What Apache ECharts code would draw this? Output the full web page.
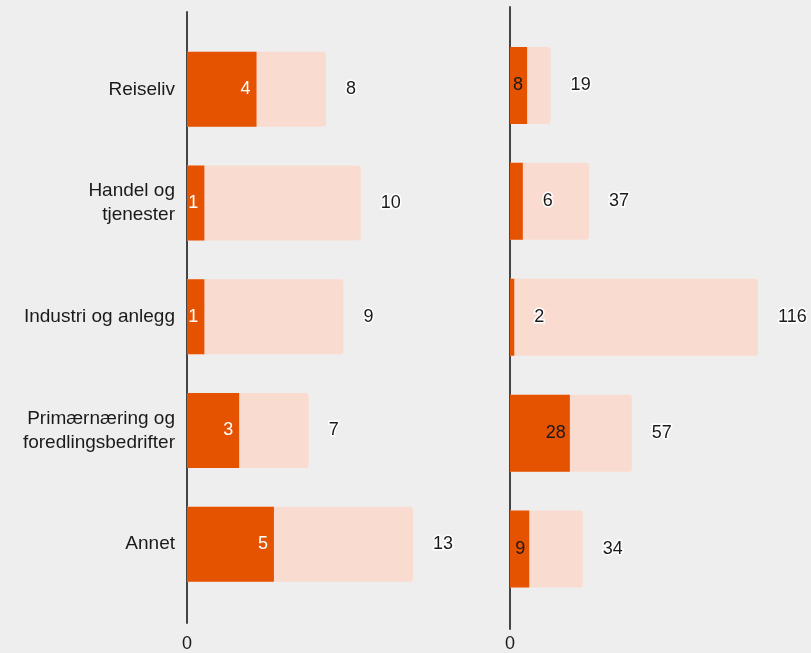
<!DOCTYPE html>
<html>
<head>
<meta charset="utf-8">
<script src="https://cdn.jsdelivr.net/npm/echarts@6/dist/echarts.min.js"></script>
<style>
  html, body { margin: 0; padding: 0; background: #eeeeee; }
  #chart { width: 811px; height: 653px; }
</style>
</head>
<body>
<div id="chart"></div>
<script>
// kategorier og verdier
var categories = ['Reiseliv', 'Handel og\ntjenester', 'Industri og anlegg', 'Primærnæring og\nforedlingsbedrifter', 'Annet'];
var leftTotal = [8, 10, 9, 7, 13];
var leftPart = [4, 1, 1, 3, 5];
var rightTotal = [19, 37, 116, 57, 34];
var rightPart = [8, 6, 2, 28, 9];
var leftMax = 13;
var rightMax = 116;

var FONT = 'Arial, "Liberation Sans", sans-serif';
var DARK = '#e55300';
var LIGHT = '#f9dccf';
var TEXT = '#1a1a1a';

var haloLabel = {
  show: true,
  position: 'right',
  distance: 20,
  color: TEXT,
  fontFamily: FONT,
  fontSize: 18,
  textBorderColor: '#ffffff',
  textBorderWidth: 3
};

// mørk del: innenfor søylen hvis det er plass, ellers til høyre
function partData(values, max, insideColor, insideDist) {
  return values.map(function (v) {
    var fits = v / max > 0.06;
    return {
      value: v,
      label: fits
        ? { show: true, position: 'insideRight', distance: insideDist, color: insideColor, fontFamily: FONT, fontSize: 18 }
        : haloLabel
    };
  });
}

function zeroAxis(gridIndex, max, margin) {
  return {
    type: 'value', gridIndex: gridIndex, min: 0, max: max,
    axisLine: { show: false }, axisTick: { show: false }, splitLine: { show: false },
    axisLabel: {
      margin: margin, color: TEXT, fontFamily: FONT, fontSize: 18, showMaxLabel: false,
      formatter: function (v) { return v === 0 ? '0' : ''; }
    }
  };
}

function lineAxis(gridIndex) {
  return {
    type: 'value', gridIndex: gridIndex,
    axisLine: { show: true, onZero: false, lineStyle: { color: '#444', width: 2 } },
    axisTick: { show: false }, axisLabel: { show: false }, splitLine: { show: false }
  };
}

var myChart = echarts.init(document.getElementById('chart'));
myChart.setOption({
  backgroundColor: '#eeeeee',
  animation: false,
  grid: [
    { left: 187, top: 32.5, width: 226, bottom: 48 },
    { left: 510, top: 27.5, width: 248, bottom: 41 },
    { left: 187, top: 12, width: 10, bottom: 30 },
    { left: 510, top: 7, width: 10, bottom: 24 }
  ],
  xAxis: [
    zeroAxis(0, leftMax, 34),
    zeroAxis(1, rightMax, 28),
    { type: 'value', gridIndex: 2, show: false },
    { type: 'value', gridIndex: 3, show: false }
  ],
  yAxis: [
    {
      type: 'category', gridIndex: 0, data: categories, inverse: true,
      axisLine: { show: false }, axisTick: { show: false },
      axisLabel: { margin: 12, color: TEXT, fontFamily: FONT, fontSize: 19, lineHeight: 24, align: 'right' }
    },
    {
      type: 'category', gridIndex: 1, data: categories, inverse: true,
      axisLine: { show: false }, axisTick: { show: false }, axisLabel: { show: false }
    },
    lineAxis(2),
    lineAxis(3)
  ],
  series: [
    {
      type: 'bar', xAxisIndex: 0, yAxisIndex: 0, data: leftTotal, barWidth: 75,
      itemStyle: { color: LIGHT, borderRadius: [0, 3, 3, 0] },
      label: haloLabel
    },
    {
      type: 'bar', xAxisIndex: 0, yAxisIndex: 0, barWidth: 75, barGap: '-100%',
      data: partData(leftPart, leftMax, '#ffffff', 6),
      itemStyle: { color: DARK }
    },
    {
      type: 'bar', xAxisIndex: 1, yAxisIndex: 1, data: rightTotal, barWidth: 77,
      itemStyle: { color: LIGHT, borderRadius: [0, 3, 3, 0] },
      label: haloLabel
    },
    {
      type: 'bar', xAxisIndex: 1, yAxisIndex: 1, barWidth: 77, barGap: '-100%',
      data: partData(rightPart, rightMax, TEXT, 4),
      itemStyle: { color: DARK }
    }
  ]
});
</script>
</body>
</html>
